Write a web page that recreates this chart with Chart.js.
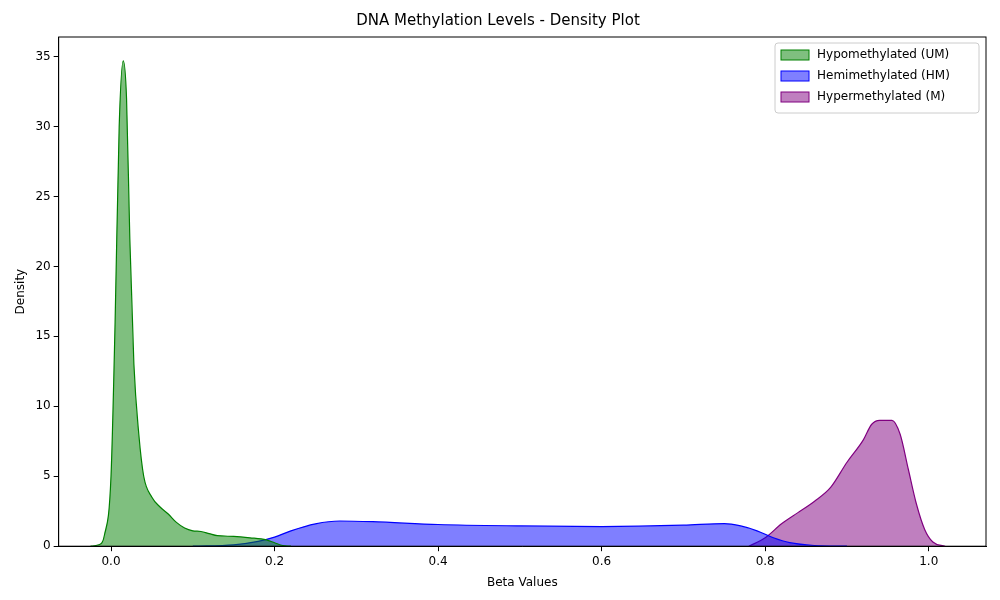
<!DOCTYPE html>
<html>
<head>
<meta charset="utf-8">
<script src="https://cdn.jsdelivr.net/npm/chart.js@4.4.0/dist/chart.umd.min.js"></script>
<style>body{margin:0;background:#fff}#wrap{width:1000px;height:600px}</style>
</head>
<body>
<div id="wrap"><canvas id="c"></canvas></div>
<script>
// density curves: [beta, density]
const hypoX = [-0.025, -0.015, -0.008, 0.0, 0.005, 0.01, 0.015, 0.019, 0.023, 0.028, 0.034, 0.04, 0.05, 0.06, 0.07, 0.08, 0.09, 0.1, 0.11, 0.12, 0.13, 0.15, 0.17, 0.19, 0.2, 0.21, 0.22];
const hypoY = [0, 0.1, 0.8, 5, 16, 30, 34.7, 32, 22, 13, 8, 5, 3.5, 2.8, 2.3, 1.7, 1.3, 1.1, 1.05, 0.9, 0.75, 0.7, 0.6, 0.45, 0.25, 0.05, 0];
const hemiX = [0.1, 0.15, 0.18, 0.2, 0.22, 0.25, 0.28, 0.32, 0.4, 0.5, 0.6, 0.7, 0.75, 0.77, 0.79, 0.81, 0.83, 0.86, 0.9];
const hemiY = [0, 0.1, 0.35, 0.65, 1.1, 1.6, 1.8, 1.75, 1.55, 1.45, 1.4, 1.5, 1.62, 1.45, 1.1, 0.6, 0.25, 0.05, 0];
const hyperX = [0.78, 0.8, 0.82, 0.84, 0.86, 0.88, 0.9, 0.92, 0.93, 0.94, 0.955, 0.965, 0.975, 0.985, 0.995, 1.005, 1.02];
const hyperY = [0, 0.6, 1.6, 2.4, 3.2, 4.2, 6, 7.6, 8.7, 9, 9, 8, 5.5, 3, 1.2, 0.3, 0];
const xTicks = [0.0, 0.2, 0.4, 0.6, 0.8, 1.0];
const yTicks = [0, 5, 10, 15, 20, 25, 30, 35];

const pts = (xs, ys) => xs.map((x, i) => ({x: x, y: ys[i]}));
const series = [
    {label: 'Hypomethylated (UM)', xs: hypoX, ys: hypoY, line: 'green', fill: 'rgba(0,128,0,0.5)'},
    {label: 'Hemimethylated (HM)', xs: hemiX, ys: hemiY, line: 'blue', fill: 'rgba(0,0,255,0.5)'},
    {label: 'Hypermethylated (M)', xs: hyperX, ys: hyperY, line: 'purple', fill: 'rgba(128,0,128,0.5)'},
];

const innerLegend = {
    id: 'innerLegend',
    afterDraw(chart) {
        const ctx = chart.ctx, a = chart.chartArea;
        const w = 204, h = 70, x0 = a.right - w - 7, y0 = a.top + 6;
        ctx.save();
        ctx.fillStyle = 'rgba(255,255,255,0.8)';
        ctx.strokeStyle = '#cccccc';
        ctx.lineWidth = 1;
        ctx.beginPath(); ctx.roundRect(x0, y0, w, h, 3); ctx.fill(); ctx.stroke();
        ctx.font = '12px "DejaVu Sans"';
        ctx.textBaseline = 'middle';
        series.forEach((s, i) => {
            const y = y0 + 12 + i * 21;
            ctx.fillStyle = s.fill; ctx.strokeStyle = s.line;
            ctx.fillRect(x0 + 6, y - 5, 28, 10); ctx.strokeRect(x0 + 6, y - 5, 28, 10);
            ctx.fillStyle = '#000';
            ctx.fillText(s.label, x0 + 42, y);
        });
        ctx.restore();
    }
};

const gridOpts = {display: true, drawOnChartArea: false, drawTicks: true, tickLength: 5, tickColor: '#000'};

new Chart(document.getElementById('c'), {
    type: 'line',
    data: {
        datasets: series.map(s => ({
            label: s.label, data: pts(s.xs, s.ys), borderColor: s.line, backgroundColor: s.fill,
            fill: 'origin', borderWidth: 1.2, pointRadius: 0, tension: 0.4, cubicInterpolationMode: 'monotone'
        }))
    },
    options: {
        responsive: true, maintainAspectRatio: false, animation: false,
        layout: {padding: {left: 10, right: 14, top: 0, bottom: 6}},
        plugins: {
            legend: {display: false}, tooltip: {enabled: false},
            title: {display: true, text: 'DNA Methylation Levels - Density Plot', color: '#000',
                font: {family: 'DejaVu Sans', size: 15, weight: 'normal'}, padding: {top: 12, bottom: 7}}
        },
        scales: {
            x: {
                type: 'linear', min: -0.064, max: 1.07,
                afterBuildTicks: ax => { ax.ticks = xTicks.map(v => ({value: v})); },
                ticks: {color: '#000', font: {family: 'DejaVu Sans', size: 12}, callback: v => v.toFixed(1)},
                grid: gridOpts,
                border: {color: '#000'},
                title: {display: true, text: 'Beta Values', color: '#000', font: {family: 'DejaVu Sans', size: 12}}
            },
            y: {
                min: 0, max: 36.4,
                afterBuildTicks: ax => { ax.ticks = yTicks.map(v => ({value: v})); },
                ticks: {color: '#000', font: {family: 'DejaVu Sans', size: 12}},
                grid: gridOpts,
                border: {color: '#000'},
                title: {display: true, text: 'Density', color: '#000', font: {family: 'DejaVu Sans', size: 12}}
            }
        }
    },
    plugins: [innerLegend, {
        id: 'frame',
        afterDraw(chart) {
            const a = chart.chartArea, ctx = chart.ctx;
            ctx.save(); ctx.strokeStyle = '#000'; ctx.lineWidth = 1;
            ctx.strokeRect(a.left, a.top, a.right - a.left, a.bottom - a.top); ctx.restore();
        }
    }]
});
</script>
</body>
</html>
